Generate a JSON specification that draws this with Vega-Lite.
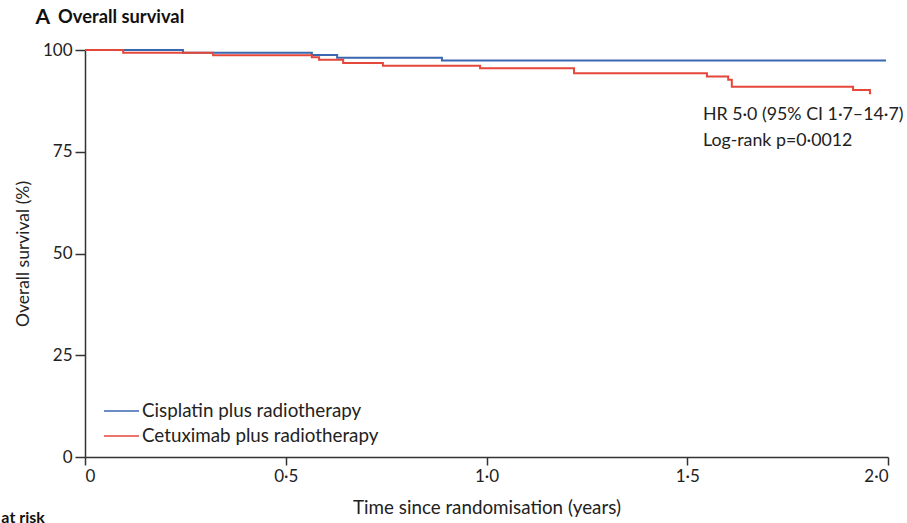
{
  "$schema": "https://vega.github.io/schema/vega-lite/v6.json",
  "width": 803,
  "height": 407,
  "autosize": {"type": "none"},
  "padding": {"left": 85, "top": 50, "right": 19, "bottom": 66},
  "background": "white",
  "config": {
    "view": {"stroke": null},
    "font": "Lato",
    "axis": {"grid": false, "domainColor": "#333333", "domainWidth": 1.5, "tickColor": "#333333", "tickWidth": 1.5, "labelColor": "#222222", "titleColor": "#222222", "labelFont": "Lato", "titleFont": "Lato", "titleFontWeight": "normal"}
  },
  "datasets": {
    "curves": [
      {"arm": "Cisplatin plus radiotherapy", "t": 0, "s": 100},
      {"arm": "Cisplatin plus radiotherapy", "t": 0.244, "s": 99.35},
      {"arm": "Cisplatin plus radiotherapy", "t": 0.565, "s": 98.8},
      {"arm": "Cisplatin plus radiotherapy", "t": 0.628, "s": 98.1},
      {"arm": "Cisplatin plus radiotherapy", "t": 0.889, "s": 97.4},
      {"arm": "Cisplatin plus radiotherapy", "t": 1.995, "s": 97.4},
      {"arm": "Cetuximab plus radiotherapy", "t": 0, "s": 100},
      {"arm": "Cetuximab plus radiotherapy", "t": 0.095, "s": 99.3},
      {"arm": "Cetuximab plus radiotherapy", "t": 0.319, "s": 98.7},
      {"arm": "Cetuximab plus radiotherapy", "t": 0.565, "s": 98.2},
      {"arm": "Cetuximab plus radiotherapy", "t": 0.583, "s": 97.6},
      {"arm": "Cetuximab plus radiotherapy", "t": 0.643, "s": 96.8},
      {"arm": "Cetuximab plus radiotherapy", "t": 0.742, "s": 96.1},
      {"arm": "Cetuximab plus radiotherapy", "t": 0.984, "s": 95.5},
      {"arm": "Cetuximab plus radiotherapy", "t": 1.218, "s": 94.3},
      {"arm": "Cetuximab plus radiotherapy", "t": 1.549, "s": 93.5},
      {"arm": "Cetuximab plus radiotherapy", "t": 1.602, "s": 92.7},
      {"arm": "Cetuximab plus radiotherapy", "t": 1.611, "s": 91.0},
      {"arm": "Cetuximab plus radiotherapy", "t": 1.913, "s": 90.2},
      {"arm": "Cetuximab plus radiotherapy", "t": 1.955, "s": 89.4},
      {"arm": "Cetuximab plus radiotherapy", "t": 1.958, "s": 89.4}
    ],
    "notes": [
      {"t": 1.539, "s": 84.0, "label": "HR 5·0 (95% CI 1·7–14·7)"},
      {"t": 1.539, "s": 77.7, "label": "Log-rank p=0·0012"}
    ],
    "panel": [
      {"t": -0.105, "s": 107.9, "label": "A"}
    ],
    "heading": [
      {"t": -0.067, "s": 107.9, "label": "Overall survival"}
    ],
    "risk": [
      {"t": -0.1, "s": -16.2, "label": "Number at risk"}
    ]
  },
  "layer": [
    {
      "data": {"name": "curves"},
      "mark": {"type": "line", "interpolate": "step-after", "strokeWidth": 2},
      "encoding": {
        "x": {"field": "t", "type": "quantitative", "scale": {"domain": [0, 2], "nice": false, "zero": false},
              "axis": {"values": [0, 0.5, 1, 1.5, 2], "tickSize": 8, "labelFontSize": 17, "labelPadding": 3, "labelExpr": "datum.value == 0 ? '0' : replace(format(datum.value, '.1f'), '.', '·')", "title": "Time since randomisation (years)", "titleFontSize": 18.8, "titlePadding": 14}},
        "y": {"field": "s", "type": "quantitative", "scale": {"domain": [0, 100], "nice": false},
              "axis": {"values": [0, 25, 50, 75, 100], "tickSize": 10, "labelFontSize": 17, "labelPadding": 3, "title": "Overall survival (%)", "titleFontSize": 17.5, "titlePadding": 10}},
        "color": {"field": "arm", "type": "nominal",
                  "scale": {"domain": ["Cisplatin plus radiotherapy", "Cetuximab plus radiotherapy"], "range": ["#3b67b0", "#e5473b"]},
                  "legend": {"title": null, "orient": "bottom-left", "offset": 11, "padding": 0, "symbolType": "M-0.3,0H3.2", "symbolSize": 400, "symbolStrokeWidth": 1.5, "labelFontSize": 18.8, "labelLimit": 0, "labelColor": "#222222", "labelFont": "Lato", "labelOffset": 24, "rowPadding": 4}},
        "order": {"field": "arm", "sort": "ascending"}
      }
    },
    {
      "data": {"name": "notes"},
      "mark": {"type": "text", "align": "left", "baseline": "middle", "fontSize": 17.8, "color": "#222222", "font": "Lato"},
      "encoding": {
        "x": {"field": "t", "type": "quantitative"},
        "y": {"field": "s", "type": "quantitative"},
        "text": {"field": "label"}
      }
    },
    {
      "data": {"name": "panel"},
      "mark": {"type": "text", "align": "center", "baseline": "middle", "fontSize": 21, "fontWeight": "bold", "color": "#111111", "font": "Lato", "clip": false},
      "encoding": {
        "x": {"field": "t", "type": "quantitative"},
        "y": {"field": "s", "type": "quantitative"},
        "text": {"field": "label"}
      }
    },
    {
      "data": {"name": "heading"},
      "mark": {"type": "text", "align": "left", "baseline": "middle", "fontSize": 18.3, "fontWeight": "bold", "color": "#111111", "font": "Lato", "clip": false},
      "encoding": {
        "x": {"field": "t", "type": "quantitative"},
        "y": {"field": "s", "type": "quantitative"},
        "text": {"field": "label"}
      }
    },
    {
      "data": {"name": "risk"},
      "mark": {"type": "text", "align": "right", "baseline": "alphabetic", "fontSize": 16, "fontWeight": "bold", "color": "#111111", "font": "Lato", "clip": false},
      "encoding": {
        "x": {"field": "t", "type": "quantitative"},
        "y": {"field": "s", "type": "quantitative"},
        "text": {"field": "label"}
      }
    }
  ]
}
